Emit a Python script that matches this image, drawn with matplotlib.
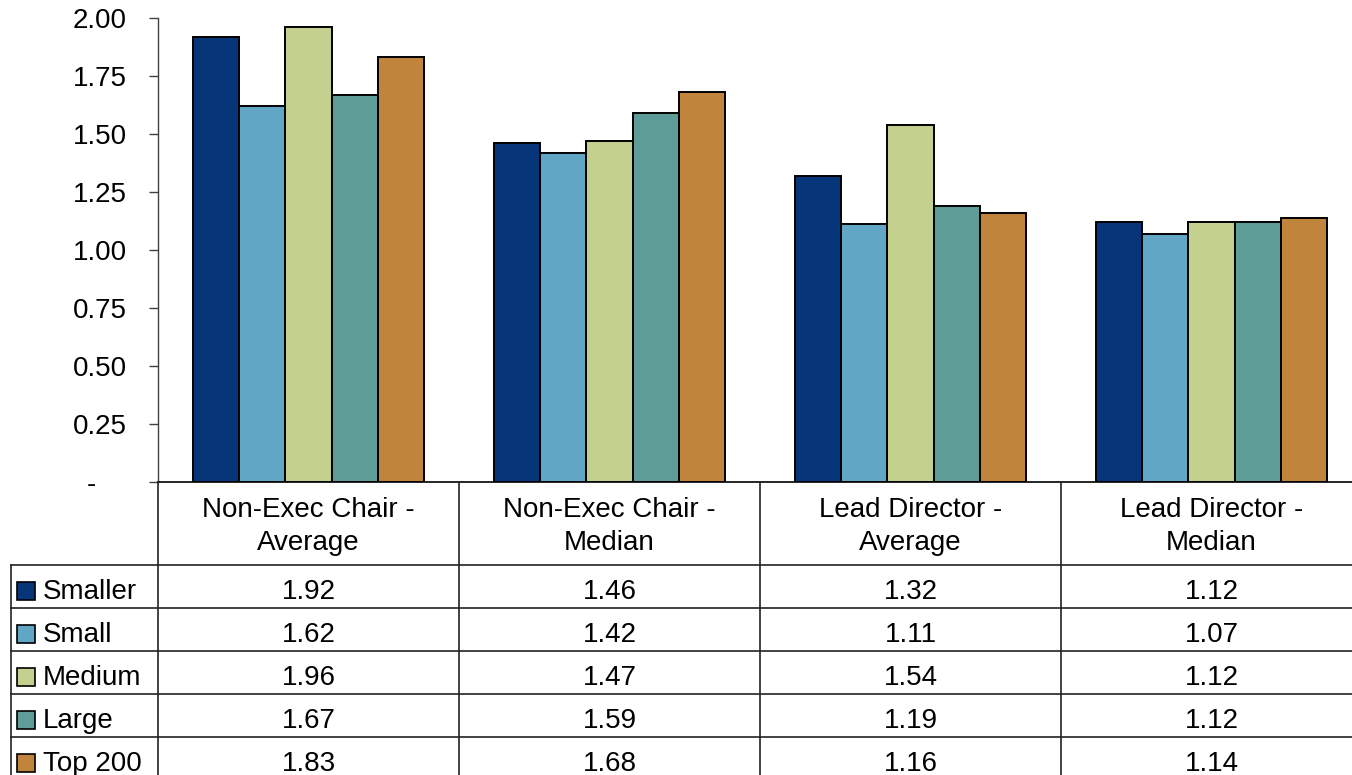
import matplotlib
matplotlib.use("Agg")
import matplotlib.pyplot as plt
from matplotlib.lines import Line2D
from matplotlib.patches import Rectangle
from matplotlib.transforms import blended_transform_factory
import numpy as np

plt.rcParams['font.family'] = ['Liberation Sans', 'DejaVu Sans']

categories = ["Non-Exec Chair -\nAverage", "Non-Exec Chair -\nMedian",
              "Lead Director -\nAverage", "Lead Director -\nMedian"]
series = ["Smaller", "Small", "Medium", "Large", "Top 200"]
smaller = [1.92, 1.46, 1.32, 1.12]
small = [1.62, 1.42, 1.11, 1.07]
medium = [1.96, 1.47, 1.54, 1.12]
large = [1.67, 1.59, 1.19, 1.12]
top200 = [1.83, 1.68, 1.16, 1.14]
values = [smaller, small, medium, large, top200]
colors = ["#06357A", "#62A6C6", "#C4D08E", "#5E9C98", "#C0843C"]
yticks = [0, 0.25, 0.5, 0.75, 1.0, 1.25, 1.5, 1.75, 2.0]
# accounting-style zero: dash padded on the right
yticklabels = ["-    ", "0.25", "0.50", "0.75", "1.00", "1.25", "1.50", "1.75", "2.00"]

W, H = 1352, 775
FS = 20
fig = plt.figure(figsize=(W / 100, H / 100), dpi=100)

# plot area in pixel terms
left, right, top, bottom = 158, 1362, 18, 482
ax = fig.add_axes([left / W, (H - bottom) / H, (right - left) / W, (bottom - top) / H])

n = len(series)
bw = 1 / (n + 1.5)
x = np.arange(len(categories))
for i, (vals, c) in enumerate(zip(values, colors)):
    ax.bar(x + (i - (n - 1) / 2) * bw, vals, width=bw, color=c,
           edgecolor="black", linewidth=1.4, zorder=3)

ax.set_xlim(-0.5, len(categories) - 0.5)
ax.set_ylim(0, 2.0)
ax.set_yticks(yticks)
ax.set_yticklabels(yticklabels)
ax.set_xticks([])
ax.tick_params(axis="y", direction="out", length=6.8, width=1.0, color="#404040",
               labelsize=FS, pad=15.5)
for s in ["top", "right"]:
    ax.spines[s].set_visible(False)
ax.spines["left"].set_color("#404040")
ax.spines["left"].set_linewidth(1.0)
ax.spines["bottom"].set_color("black")
ax.spines["bottom"].set_linewidth(1.2)

# data table beneath the plot, drawn in pixel coordinates
ov = fig.add_axes([0, 0, 1, 1], zorder=5)
ov.set_xlim(0, W)
ov.set_ylim(H, 0)
ov.axis("off")
ov.patch.set_alpha(0)
tr = blended_transform_factory(ax.transData, ov.transData)

header_bottom = 565
row_h = 43
lc = "#222222"
lw = 1.2

# vertical separators between category columns
for k in range(len(categories) + 1):
    ov.add_line(Line2D([k - 0.5, k - 0.5], [bottom, H + 5], transform=tr,
                       color=lc, linewidth=lw))
# legend column outer border
ov.add_line(Line2D([11, 11], [header_bottom, H + 5], color=lc, linewidth=lw))
# horizontal row lines
for r in range(len(series)):
    y = header_bottom + r * row_h
    ov.add_line(Line2D([11, W + 5], [y, y], color=lc, linewidth=lw))

# header row with category names, one baseline per line
for k, cat in enumerate(categories):
    for j, line in enumerate(cat.split("\n")):
        ov.text(k, 517 + 33 * j, line, transform=tr, ha="center",
                va="baseline", fontsize=FS)

# value rows with legend keys
for r, (name, vals, c) in enumerate(zip(series, values, colors)):
    base = header_bottom + r * row_h + 34
    ov.add_patch(Rectangle((17, base - 17), 18, 18, facecolor=c, edgecolor="black",
                           linewidth=1.2))
    ov.text(43, base, name, ha="left", va="baseline", fontsize=FS)
    for k, v in enumerate(vals):
        ov.text(k, base, f"{v:.2f}", transform=tr, ha="center", va="baseline",
                fontsize=FS)

fig.savefig("out.png", dpi=100)
